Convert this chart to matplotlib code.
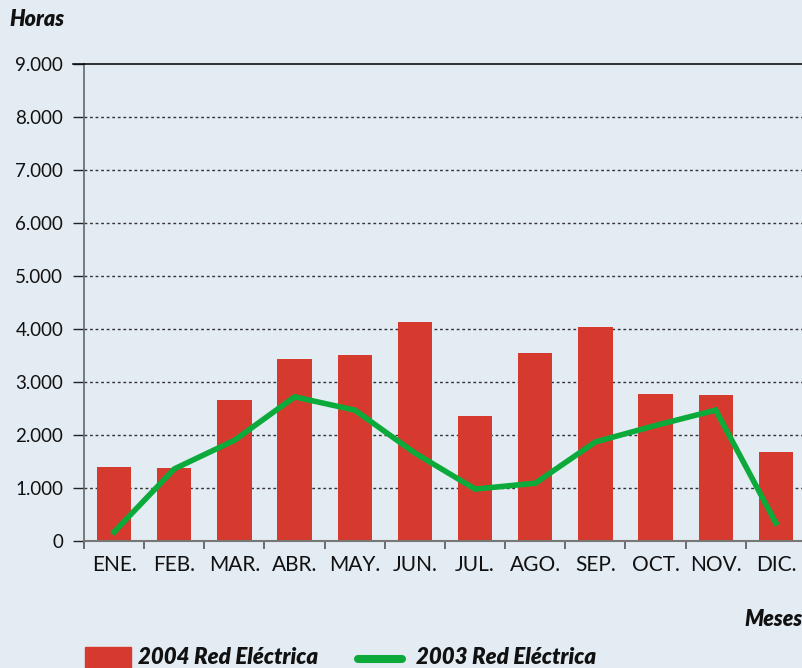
import matplotlib
matplotlib.use("Agg")
import matplotlib.pyplot as plt
from matplotlib.ticker import FuncFormatter, FixedLocator
from matplotlib.patches import Rectangle
from matplotlib.lines import Line2D

plt.rcParams['font.family'] = ['Lato', 'DejaVu Sans']

# Datos
meses = ["ENE.", "FEB.", "MAR.", "ABR.", "MAY.", "JUN.",
         "JUL.", "AGO.", "SEP.", "OCT.", "NOV.", "DIC."]
horas_2004 = [1400, 1380, 2660, 3430, 3510, 4130, 2360, 3550, 4040, 2770, 2750, 1680]
horas_2003 = [170, 1360, 1900, 2720, 2470, 1660, 980, 1090, 1870, 2180, 2470, 340]
yticks = [0, 1000, 2000, 3000, 4000, 5000, 6000, 7000, 8000, 9000]

fondo = "#E3EBF3"
rojo = "#D63A2F"
verde = "#0BAA3A"

W, H = 802, 668
fig = plt.figure(figsize=(W / 100, H / 100), dpi=100, facecolor=fondo)
ax = fig.add_axes([84 / W, (H - 541) / H, 722 / W, (541 - 64) / H])
ax.set_facecolor(fondo)

x = list(range(len(meses)))
ax.bar(x, horas_2004, width=0.57, color=rojo, zorder=2)
ax.plot(x, horas_2003, color=verde, linewidth=4, zorder=3, solid_joinstyle='miter')

ax.set_xlim(-0.5, 11.5)
ax.set_ylim(0, 9000)

# Eje Y
ax.yaxis.set_major_locator(FixedLocator(yticks))
ax.yaxis.set_major_formatter(FuncFormatter(lambda v, p: f"{int(v):,}".replace(",", ".")))
ax.tick_params(axis='y', length=8, width=1, color="#222222", pad=7, labelsize=13.5, labelcolor="#111111")
for v in yticks[1:-1]:
    ax.axhline(v, color="#333333", linewidth=1, linestyle=(0, (2, 2)), zorder=1)

# Eje X: ticks en los limites, etiquetas centradas
ax.set_xticks(x)
ax.set_xticklabels(meses)
ax.set_xticks([i - 0.5 for i in range(len(meses) + 1)], minor=True)
ax.tick_params(axis='x', which='major', length=0, pad=10, labelsize=15, labelcolor="#111111")
ax.tick_params(axis='x', which='minor', length=6, width=1.2, color="#555555")

ax.spines["right"].set_visible(False)
ax.spines["top"].set_color("#111111")
ax.spines["top"].set_linewidth(1.2)
ax.spines["left"].set_color("#666666")
ax.spines["left"].set_linewidth(1.2)
ax.spines["bottom"].set_color("#777777")
ax.spines["bottom"].set_linewidth(1.5)
ax.spines["top"].set_zorder(4)

# Tick superior (9.000) solido
fig.add_artist(Line2D([73 / W, 84 / W], [(H - 64) / H] * 2, color="#111111", linewidth=1.2))

# Titulos de ejes
fig.text(9 / W, 1 - 20 / H, "Horas", fontsize=15.5, fontweight='heavy', fontstyle='italic',
         ha='left', va='center', color="#111111")
fig.text(803 / W, 1 - 620 / H, "Meses", fontsize=15.5, fontweight='heavy', fontstyle='italic',
         ha='right', va='center', color="#111111")

# Leyenda
fig.add_artist(Rectangle((85 / W, 0), 46 / W, 21 / H, transform=fig.transFigure,
                         color=rojo, clip_on=False))
fig.text(138 / W, 1 - 658 / H, "2004 Red Eléctrica", fontsize=16, fontweight='heavy',
         fontstyle='italic', ha='left', va='center', color="#111111")
fig.add_artist(Line2D([358 / W, 402 / W], [(H - 659) / H] * 2, color=verde, linewidth=5.8,
                      solid_capstyle='round'))
fig.text(416 / W, 1 - 658 / H, "2003 Red Eléctrica", fontsize=16, fontweight='heavy',
         fontstyle='italic', ha='left', va='center', color="#111111")

fig.savefig("out.png", dpi=100, facecolor=fondo)
